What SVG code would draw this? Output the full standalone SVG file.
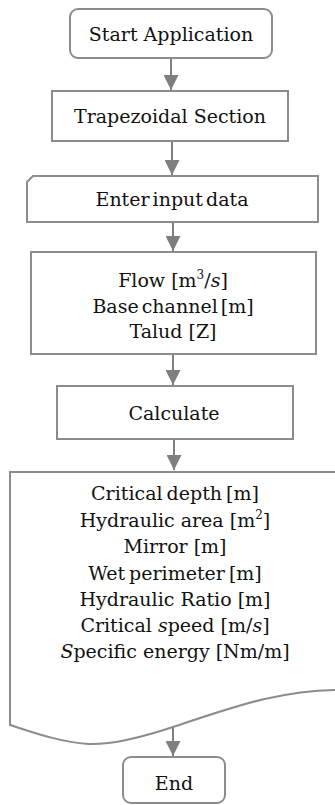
<svg xmlns="http://www.w3.org/2000/svg" width="335" height="805" viewBox="0 0 335 805">
<style>
.box{fill:#ffffff;stroke:#8c8c8c;stroke-width:2}
.t{font-family:"DejaVu Serif","Liberation Serif",serif;font-size:19px;fill:#111111;text-anchor:middle}
.sup{font-size:12px}
.con{stroke:#7f7f7f;stroke-width:2;fill:none}
</style>
<defs>
<marker id="ah" viewBox="0 0 10 10" refX="10" refY="5" markerWidth="15" markerHeight="15" markerUnits="userSpaceOnUse" orient="auto">
<path d="M0,0 L10,5 L0,10 z" fill="#7f7f7f"/>
</marker>
</defs>
<rect width="335" height="805" fill="#ffffff"/>
<g id="connectors">
<line class="con" x1="171" y1="58" x2="171" y2="90" marker-end="url(#ah)"/>
<line class="con" x1="172" y1="141" x2="172" y2="175" marker-end="url(#ah)"/>
<line class="con" x1="173" y1="222" x2="173" y2="251" marker-end="url(#ah)"/>
<line class="con" x1="173" y1="354" x2="173" y2="385" marker-end="url(#ah)"/>
<line class="con" x1="174" y1="439" x2="174" y2="470" marker-end="url(#ah)"/>
<line class="con" x1="173" y1="725" x2="173" y2="756" marker-end="url(#ah)"/>
</g>
<g id="start">
<rect class="box" x="70" y="9" width="202" height="49" rx="8"/>
<text class="t" x="171" y="41">Start Application</text>
</g>
<g id="trapezoidal">
<rect class="box" x="52" y="91" width="236" height="50"/>
<text class="t" x="170" y="123">Trapezoidal Section</text>
</g>
<g id="input">
<path class="box" d="M33,176 L318,176 L318,222 L27,222 L27,182 Z"/>
<text class="t" x="172" y="206" word-spacing="-3">Enter input data</text>
</g>
<g id="data">
<rect class="box" x="31" y="252" width="285" height="102"/>
<text class="t" x="173" y="287">Flow [m<tspan class="sup" dy="-8">3</tspan><tspan dy="8">/</tspan><tspan font-style="italic">s</tspan>]</text>
<text class="t" x="173" y="313" word-spacing="-3">Base channel [m]</text>
<text class="t" x="173" y="338">Talud [Z]</text>
</g>
<g id="calculate">
<rect class="box" x="57" y="386" width="236" height="53"/>
<text class="t" x="174" y="420">Calculate</text>
</g>
<g id="output">
<path class="box" d="M10,472 H345 V690 C285,688 230,708 173,727 C140,738 112,745 88,744 C60,742 35,733 10,725 Z"/>
<text class="t" x="175" y="500" word-spacing="-2">Critical depth [m]</text>
<text class="t" x="175" y="527">Hydraulic area [m<tspan class="sup" dy="-8">2</tspan><tspan dy="8">]</tspan></text>
<text class="t" x="175" y="553">Mirror [m]</text>
<text class="t" x="175" y="580" word-spacing="-2">Wet perimeter [m]</text>
<text class="t" x="175" y="606">Hydraulic Ratio [m]</text>
<text class="t" x="175" y="632">Critical <tspan font-style="italic">s</tspan>peed [m/<tspan font-style="italic">s</tspan>]</text>
<text class="t" x="175" y="658"><tspan font-style="italic">S</tspan>pecific energy [Nm/m]</text>
</g>
<g id="end">
<rect class="box" x="123" y="757" width="102" height="46" rx="8"/>
<text class="t" x="174" y="790">End</text>
</g>
</svg>
